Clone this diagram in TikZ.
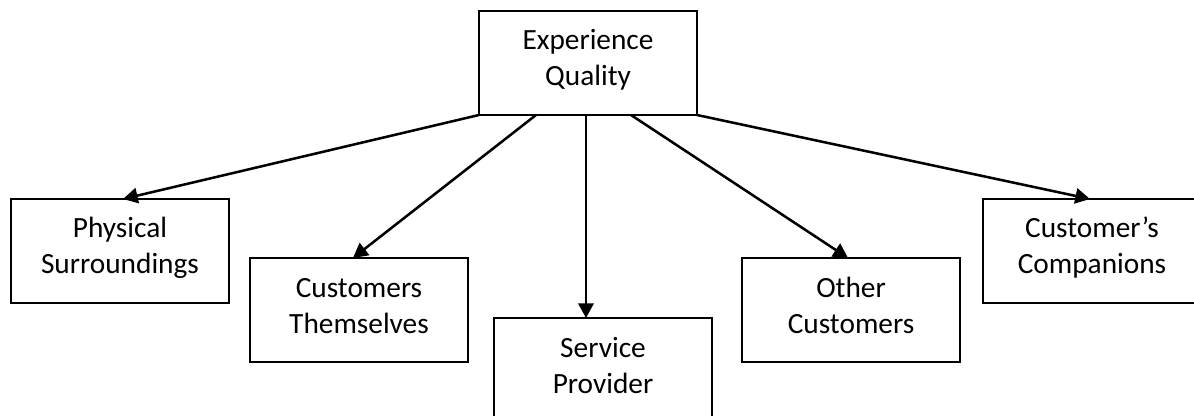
\documentclass[tikz,border=0pt]{standalone}
\usepackage{fontspec}
\setmainfont{Carlito}
\usetikzlibrary{arrows.meta,calc}
\newcommand{\twoline}[2]{\begin{tabular}[t]{@{}c@{}}#1\\#2\end{tabular}}
\begin{document}
\begin{tikzpicture}[x=0.75pt,y=-0.75pt,
  box/.style={draw=black, line width=1.4pt, minimum width=163.5pt, minimum height=78pt,
              inner sep=0pt, outer sep=0pt, anchor=north west},
  txt/.style={font=\fontsize{22}{27}\selectfont, inner sep=0pt, anchor=base},
  arr/.style={line width=1.9pt, -{Triangle[length=11pt,width=11.5pt]}}]
\useasboundingbox (0,0) rectangle (1194,416);
\clip (0,0) rectangle (1194,416);
% boxes
\node[box] (eq)   at (479,11)  {};
\node[box] (phys) at (11,199)  {};
\node[box] (cust) at (250,258) {};
\node[box] (sp)   at (494,318) {};
\node[box] (oth)  at (742,258) {};
\node[box] (comp) at (983,199) {};
% texts
\node[txt] (eqt)   at ($(eq.north)+(0,39)$)   {\twoline{Experience}{Quality}};
\node[txt] (physt) at ($(phys.north)+(0,39)$) {\twoline{Physical}{Surroundings}};
\node[txt] (custt) at ($(cust.north)+(0,39)$) {\twoline{Customers}{Themselves}};
\node[txt] (spt)   at ($(sp.north)+(0,39)$)   {\twoline{Service}{Provider}};
\node[txt] (otht)  at ($(oth.north)+(0,39)$)  {\twoline{Other}{Customers}};
\node[txt] (compt) at ($(comp.north)+(0,39)$) {\twoline{Customer’s}{Companions}};
% start points on the bottom of the top box
\coordinate (s2) at ($(eq.south west)+(57,0)$);
\coordinate (s3) at ($(eq.south west)+(107,0)$);
\coordinate (s4) at ($(eq.south west)+(152,0)$);
% connectors
\draw[arr] (eq.south west) -- ($(phys.north)+(3,0)$);
\draw[arr] (s2) -- ($(cust.north)+(-6,0)$);
\draw[arr] (s3) -- (s3 |- sp.north);
\draw[arr] (s4) -- ($(oth.north)+(-3,0)$);
\draw[arr] (eq.south east) -- ($(comp.north)+(-2,0)$);
\end{tikzpicture}
\end{document}
